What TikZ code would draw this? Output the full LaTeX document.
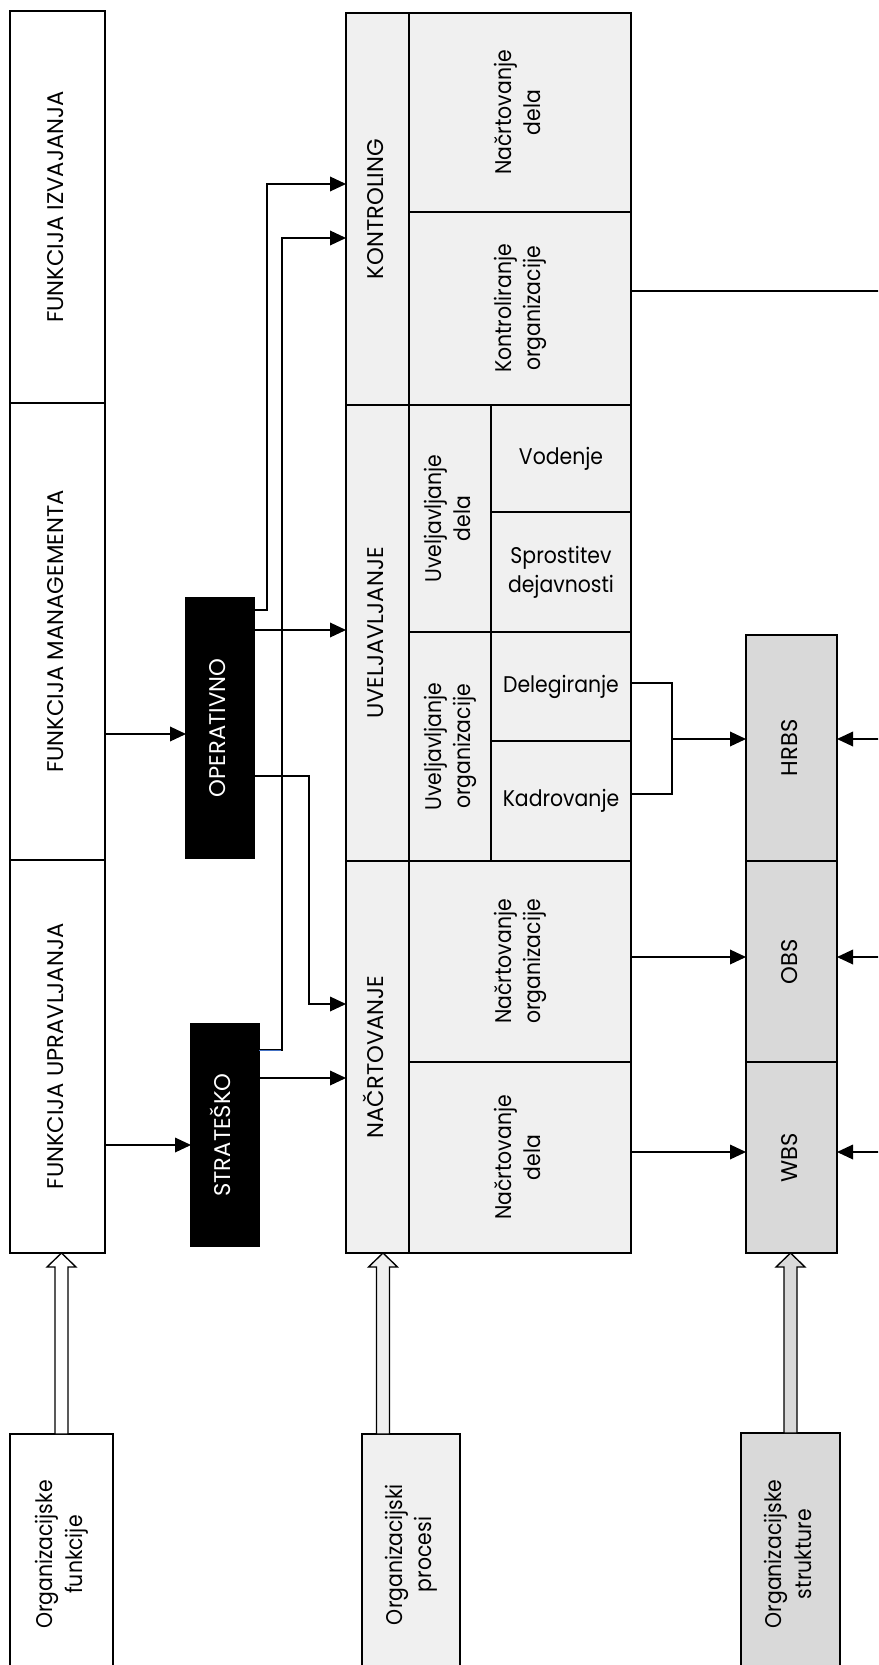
\documentclass[tikz,border=0pt]{standalone}
\usepackage{fontspec}
\setmainfont[FakeStretch=0.9]{Poppins}
\newfontfamily\capsfont{Poppins}
\usetikzlibrary{arrows.meta,fit,calc}

\definecolor{procgray}{RGB}{240,240,240}
\definecolor{structgray}{RGB}{217,217,217}
\definecolor{linkblue}{RGB}{68,114,196}

\tikzset{every picture/.style={line width=0.75pt}}

\newcommand{\vtext}[1]{\rotatebox{90}{\begin{tabular}{@{}c@{}}#1\end{tabular}}}
\newcommand{\htext}[1]{\begin{tabular}{@{}c@{}}#1\end{tabular}}
% hollow arrow: #1 start (below), #2 target (above), #3 fill
\newcommand{\fatarrow}[3]{%
  \draw [line width=1pt, fill=#3] ($(#1)+(-6.5,0)$) -- ($(#1 |- #2)+(-6.5,14)$) -- ($(#1 |- #2)+(-14.5,14)$) -- (#1 |- #2)
    -- ($(#1 |- #2)+(14.5,14)$) -- ($(#1 |- #2)+(6.5,14)$) -- ($(#1)+(6.5,0)$) -- cycle ;}

\begin{document}
\begin{tikzpicture}[x=0.75pt,y=0.75pt,yscale=-1,xscale=1,
  every label/.style={font=\fontsize{17}{22}\selectfont, inner sep=0pt},
  capstext/.style={font=\capsfont\fontsize{17}{22}\selectfont},
  whitetext/.style={capstext, text=white},
  box/.style={draw, line width=1.2pt, inner sep=0pt, outer sep=0pt},
  funcbox/.style={box, fill=white},
  procbox/.style={box, fill=procgray},
  structbox/.style={box, fill=structgray},
  tierbox/.style={box, fill=black},
  link/.style={line width=1pt},
  arr/.style={link, -{Triangle[length=12pt,width=11pt]}}]
\clip (0,0) rectangle (878,1665);
\fill [white] (0,0) rectangle (878,1665);

%Functions
\node [funcbox, fit={(10,11) (105,403)}, label={[capstext]center:\vtext{FUNKCIJA IZVAJANJA}}] (izv) {};
\node [funcbox, fit={(10,403) (105,860)}, label={[capstext]center:\vtext{FUNKCIJA MANAGEMENTA}}] (mgmt) {};
\node [funcbox, fit={(10,860) (105,1253)}, label={[capstext]center:\vtext{FUNKCIJA UPRAVLJANJA}}] (upr) {};
\node [funcbox, fit={(10,1434) (113,1675)}, label={center:{\vtext{Organizacijske\\funkcije}}}] (orgf) {};

%Levels
\node [tierbox, fit={(186,598) (254,858)}, label={[whitetext]center:\vtext{OPERATIVNO}}] (oper) {};
\node [tierbox, fit={(191,1024) (259,1246)}, label={[whitetext]center:\vtext{STRATEŠKO}}] (strat) {};

%Processes: controlling
\node [procbox, fit={(346,13) (409,405)}, label={[capstext]center:\vtext{KONTROLING}}] (kon) {};
\node [procbox, fit={(409,13) (631,212)}, label={center:{\vtext{Načrtovanje\\dela}}}] (kdel) {};
\node [procbox, fit={(409,212) (631,405)}, label={center:{\vtext{Kontroliranje\\organizacije}}}] (korg) {};
%Processes: execution
\node [procbox, fit={(346,405) (409,861)}, label={[capstext]center:\vtext{UVELJAVLJANJE}}] (uve) {};
\node [procbox, fit={(409,405) (491,632)}, label={center:{\vtext{Uveljavljanje\\dela}}}] (udel) {};
\node [procbox, fit={(409,632) (491,861)}, label={center:{\vtext{Uveljavljanje\\organizacije}}}] (uorg) {};
\node [procbox, fit={(491,405) (631,512)}, label={center:Vodenje}] (vod) {};
\node [procbox, fit={(491,512) (631,632)}, label={center:{\htext{Sprostitev\\dejavnosti}}}] (spr) {};
\node [procbox, fit={(491,632) (631,741)}, label={center:Delegiranje}] (dele) {};
\node [procbox, fit={(491,741) (631,861)}, label={center:Kadrovanje}] (kadr) {};
%Processes: planning
\node [procbox, fit={(346,861) (409,1253)}, label={[capstext]center:\vtext{NAČRTOVANJE}}] (nac) {};
\node [procbox, fit={(409,861) (631,1062)}, label={center:{\vtext{Načrtovanje\\organizacije}}}] (norg) {};
\node [procbox, fit={(409,1062) (631,1253)}, label={center:{\vtext{Načrtovanje\\dela}}}] (ndel) {};
\node [procbox, fit={(362,1434) (460,1675)}, label={center:{\vtext{Organizacijski\\procesi}}}] (orgp) {};

%Structures
\node [structbox, fit={(746,635) (837,861)}, label={[capstext]center:\vtext{HRBS}}] (hrbs) {};
\node [structbox, fit={(746,861) (837,1062)}, label={[capstext]center:\vtext{OBS}}] (obs) {};
\node [structbox, fit={(746,1062) (837,1253)}, label={[capstext]center:\vtext{WBS}}] (wbs) {};
\node [structbox, fit={(741,1433) (840,1675)}, label={center:{\vtext{Organizacijske\\strukture}}}] (orgs) {};

%Off-picture ends
\coordinate (korgout) at (895,291);
\coordinate (hrbsin) at (895,739);
\coordinate (obsin) at (895,957);
\coordinate (wbsin) at (895,1152);
\coordinate (orgpout) at ([xshift=-21pt]orgp.north);

%Functions to levels
\draw [arr] (mgmt.east |- 0,734) -- (oper.west |- 0,734);
\draw [arr] (upr.east |- 0,1145) -- (strat.west |- 0,1145);

%Levels to processes
\draw [arr] (oper.east |- 0,610) -- (267,610) -- (267,184) -- (kon.west |- 0,184);
\draw [arr] (oper.east |- 0,630) -- (uve.west |- 0,630);
\draw [arr] (oper.east |- 0,776) -- (309,776) -- (309,1004) -- (nac.west |- 0,1004);
\draw [arr] (strat.east |- 0,1050) -- (282,1050) -- (282,238) -- (kon.west |- 0,238);
\draw [color=linkblue] (strat.east |- 0,1050) -- (281,1050);
\draw [arr] (strat.east |- 0,1078) -- (nac.west |- 0,1078);

%Processes to structures
\draw [link] (dele.east |- 0,683) -- (672,683) -- (672,794) -- (kadr.east |- 0,794);
\draw [arr] (672,739) -- (hrbs.west |- 0,739);
\draw [arr] (norg.east |- 0,957) -- (obs.west |- 0,957);
\draw [arr] (ndel.east |- 0,1152) -- (wbs.west |- 0,1152);
\draw [link] (korg.east |- korgout) -- (korgout);
\draw [arr] (hrbsin) -- (hrbs.east |- hrbsin);
\draw [arr] (obsin) -- (obs.east |- obsin);
\draw [arr] (wbsin) -- (wbs.east |- wbsin);

%Hollow arrows
\fatarrow{orgf.north}{upr.south}{white}
\fatarrow{orgpout}{nac.south}{procgray}
\fatarrow{orgs.north}{wbs.south}{structgray}

\end{tikzpicture}
\end{document}
